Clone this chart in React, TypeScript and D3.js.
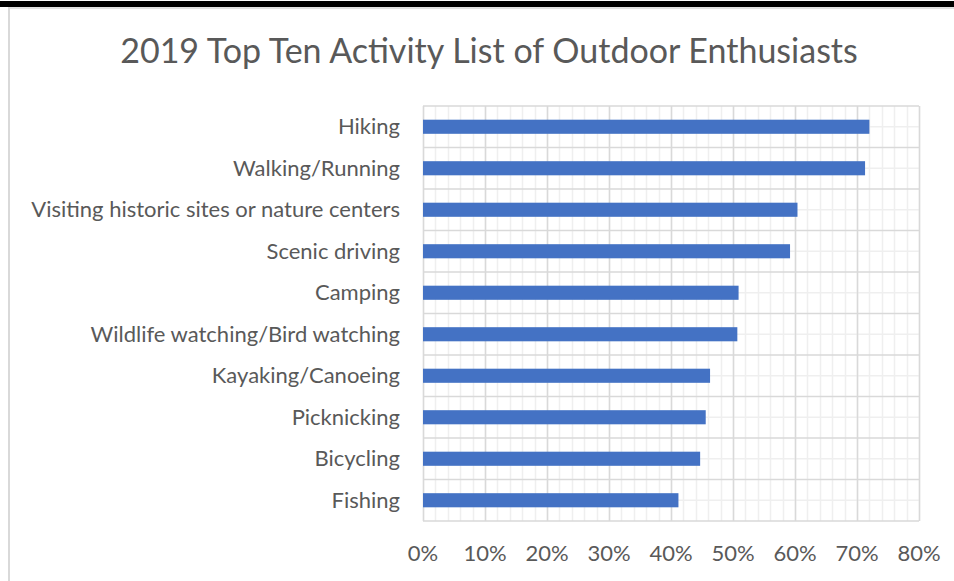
import * as d3 from "d3";
import { useEffect, useRef } from "react";

// activities, top to bottom
const activities = [
  "Hiking",
  "Walking/Running",
  "Visiting historic sites or nature centers",
  "Scenic driving",
  "Camping",
  "Wildlife watching/Bird watching",
  "Kayaking/Canoeing",
  "Picknicking",
  "Bicycling",
  "Fishing",
];

// share of outdoor enthusiasts (fraction)
const shares = [0.72, 0.713, 0.604, 0.592, 0.509, 0.507, 0.463, 0.456, 0.447, 0.412];

const tickValues = [0, 0.1, 0.2, 0.3, 0.4, 0.5, 0.6, 0.7, 0.8];
const minorTicks = d3.range(0, 0.8001, 0.02);

const title = "2019 Top Ten Activity List of Outdoor Enthusiasts";

const App = () => {
  const svgRef = useRef<SVGSVGElement | null>(null);

  useEffect(() => {
    const svg = d3.select(svgRef.current);
    svg.selectAll("*").remove();

    const width = 954;
    const height = 581;
    const margin = { top: 106, right: 35, bottom: 60, left: 423 };
    const font = "Lato, 'Open Sans', sans-serif";
    const textColor = "#595959";

    // frame
    svg.append("rect").attr("x", 0).attr("y", 0).attr("width", width).attr("height", height).attr("fill", "#fff");
    svg.append("rect").attr("x", 0).attr("y", 1).attr("width", width).attr("height", 6).attr("fill", "#000");
    svg.append("line").attr("x1", 9).attr("x2", width).attr("y1", 8).attr("y2", 8).attr("stroke", "#d9d9d9").attr("stroke-width", 1.5);
    svg.append("line").attr("x1", 9).attr("x2", 9).attr("y1", 7).attr("y2", height).attr("stroke", "#d9d9d9").attr("stroke-width", 2);

    const x = d3
      .scaleLinear()
      .domain([0, 0.8])
      .range([margin.left, width - margin.right]);

    const y = d3
      .scaleBand()
      .domain(activities)
      .range([margin.top, height - margin.bottom])
      .paddingInner(0.66)
      .paddingOuter(0.33);

    const bandStep = y.step();
    const y0 = margin.top;
    const y1 = height - margin.bottom;

    const grid = svg.append("g");

    // minor vertical gridlines
    grid
      .selectAll("line.minor-v")
      .data(minorTicks)
      .join("line")
      .attr("class", "minor-v")
      .attr("x1", (d) => Math.round(x(d)) + 0.5)
      .attr("x2", (d) => Math.round(x(d)) + 0.5)
      .attr("y1", y0)
      .attr("y2", y1)
      .attr("stroke", "#efefef")
      .attr("stroke-width", 1.5);

    // minor horizontal gridlines at category centres
    grid
      .selectAll("line.minor-h")
      .data(activities)
      .join("line")
      .attr("class", "minor-h")
      .attr("x1", margin.left)
      .attr("x2", width - margin.right)
      .attr("y1", (d) => y(d)! + y.bandwidth() / 2)
      .attr("y2", (d) => y(d)! + y.bandwidth() / 2)
      .attr("stroke", "#efefef")
      .attr("stroke-width", 1.5);

    // major vertical gridlines
    grid
      .selectAll("line.major-v")
      .data(tickValues)
      .join("line")
      .attr("class", "major-v")
      .attr("x1", (d) => Math.round(x(d)) + 0.5)
      .attr("x2", (d) => Math.round(x(d)) + 0.5)
      .attr("y1", y0)
      .attr("y2", y1)
      .attr("stroke", "#d9d9d9")
      .attr("stroke-width", 1.5);

    // major horizontal gridlines at category boundaries
    grid
      .selectAll("line.major-h")
      .data(d3.range(activities.length + 1))
      .join("line")
      .attr("class", "major-h")
      .attr("x1", margin.left)
      .attr("x2", width - margin.right)
      .attr("y1", (i) => y0 + i * bandStep)
      .attr("y2", (i) => y0 + i * bandStep)
      .attr("stroke", "#d9d9d9")
      .attr("stroke-width", 1.5);

    // bars
    svg
      .append("g")
      .selectAll("rect")
      .data(activities)
      .join("rect")
      .attr("x", x(0))
      .attr("y", (d) => y(d)!)
      .attr("width", (d, i) => x(shares[i]) - x(0))
      .attr("height", y.bandwidth())
      .attr("fill", "#4472c4");

    // category labels
    svg
      .append("g")
      .selectAll("text")
      .data(activities)
      .join("text")
      .attr("x", margin.left - 23)
      .attr("y", (d) => y(d)! + y.bandwidth() / 2)
      .attr("dy", "0.35em")
      .attr("text-anchor", "end")
      .attr("font-family", font)
      .attr("font-size", 22)
      .attr("fill", textColor)
      .text((d) => d);

    // x tick labels
    svg
      .append("g")
      .selectAll("text")
      .data(tickValues)
      .join("text")
      .attr("x", (d) => x(d))
      .attr("y", 561)
      .attr("text-anchor", "middle")
      .attr("font-family", font)
      .attr("font-size", 22)
      .attr("fill", textColor)
      .text((d) => d3.format(".0%")(d));

    // title
    svg
      .append("text")
      .attr("x", 489)
      .attr("y", 63)
      .attr("text-anchor", "middle")
      .attr("font-family", font)
      .attr("font-size", 34)
      .attr("fill", textColor)
      .text(title);
  }, []);

  return (
    <svg
      ref={svgRef}
      width={954}
      height={581}
      style={{ position: "absolute", left: 0, top: 0 }}
    ></svg>
  );
};

export default App;
